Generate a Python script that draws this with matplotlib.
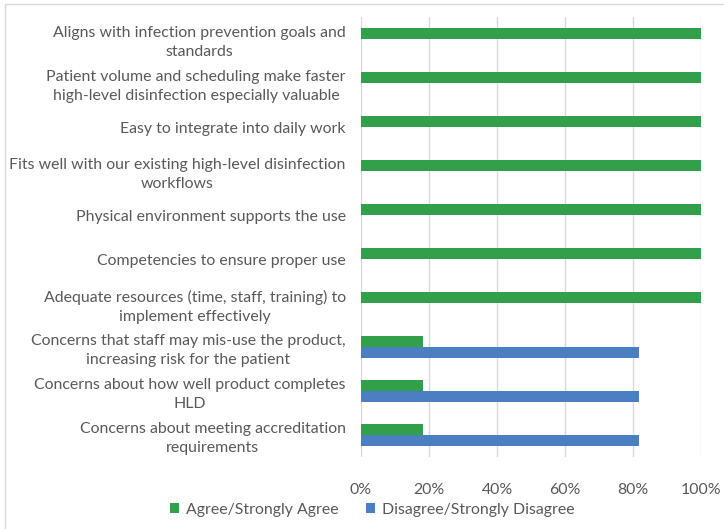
import matplotlib.pyplot as plt
import numpy as np
from matplotlib.patches import Rectangle

categories = [
    "Aligns with infection prevention goals and\nstandards",
    "Patient volume and scheduling make faster\nhigh-level disinfection especially valuable",
    "Easy to integrate into daily work",
    "Fits well with our existing high-level disinfection\nworkflows",
    "Physical environment supports the use",
    "Competencies to ensure proper use",
    "Adequate resources (time, staff, training) to\nimplement effectively",
    "Concerns that staff may mis-use the product,\nincreasing risk for the patient",
    "Concerns about how well product completes\nHLD",
    "Concerns about meeting accreditation\nrequirements",
]
agree = [100, 100, 100, 100, 100, 100, 100, 18.2, 18.2, 18.2]
disagree = [0, 0, 0, 0, 0, 0, 0, 81.8, 81.8, 81.8]
xticks = [0, 20, 40, 60, 80, 100]

GREEN = "#32a04a"
BLUE = "#4a7fc2"
TEXT = "#595959"
GRID = "#d9d9d9"
FS = 11.4

plt.rcParams["font.family"] = ["Lato", "DejaVu Sans"]

W, H = 724, 529
fig = plt.figure(figsize=(W / 100, H / 100), dpi=100)
ax = fig.add_axes([361 / W, 1 - 457 / H, 340 / W, 440 / H])

y = np.arange(len(categories))
h = 0.24
ax.barh(y - h / 2, agree, height=h, color=GREEN, label="Agree/Strongly Agree")
ax.barh(y + h / 2, disagree, height=h, color=BLUE, label="Disagree/Strongly Disagree")

ax.set_ylim(len(categories) - 0.5, -0.5)
ax.set_xlim(0, 100)
ax.set_xticks(xticks)
ax.set_xticklabels([f"{v}%" for v in xticks], color=TEXT, fontsize=FS)
ax.set_yticks(y)
ax.set_yticklabels(categories, color=TEXT, fontsize=FS, multialignment="center",
                   linespacing=1.45)
ax.tick_params(axis="both", length=0)
ax.tick_params(axis="x", pad=19)
ax.tick_params(axis="y", pad=11)
ax.grid(axis="x", color=GRID, linewidth=1)
ax.set_axisbelow(True)
for s in ax.spines.values():
    s.set_visible(False)

leg = fig.legend(loc="center", bbox_to_anchor=(372 / W, 1 - 510 / H), ncol=2, frameon=False,
                 fontsize=FS, handlelength=0.6, handleheight=0.6, columnspacing=1.75,
                 handletextpad=0.4)
for t in leg.get_texts():
    t.set_color(TEXT)

fig.patches.append(Rectangle((5 / W, -0.1), 1.2, 1 - 4.5 / H + 0.1, transform=fig.transFigure,
                             fill=False, edgecolor="#d9d9d9", linewidth=1))

fig.savefig("out.png", dpi=100)
